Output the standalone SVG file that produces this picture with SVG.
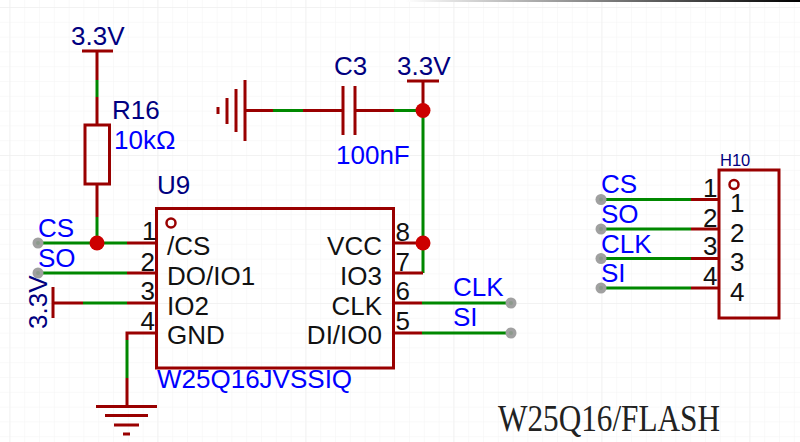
<svg xmlns="http://www.w3.org/2000/svg" width="800" height="442" viewBox="0 0 800 442">
<style>
.b{stroke:#990000;stroke-width:3;fill:none}
.g{stroke:#008800;stroke-width:3;fill:none}
.j{fill:#cc0000}
.p{fill:#a0a0a0}
.q{fill:#8c9a8c}
.t{font-family:"Liberation Sans",Arial,sans-serif;font-size:26px}
.n{fill:#000080}.v{fill:#0000ff}.k{fill:#111}
.s{fill:none;stroke:#990000;stroke-width:3}
</style>
<defs>
<pattern id="gr" width="14.8" height="14.8" patternUnits="userSpaceOnUse" x="9.4" y="7"><path d="M0 0H14.8M0 0V14.8" stroke="#f4f4f4" stroke-width="1" fill="none"/></pattern>
<pattern id="gm" width="148" height="148" patternUnits="userSpaceOnUse" x="9.4" y="7"><path d="M0 0H148M0 0V148" stroke="#ececec" stroke-width="1" fill="none"/></pattern>
<linearGradient id="tb" x1="405" y1="0" x2="800" y2="0" gradientUnits="userSpaceOnUse"><stop offset="0" stop-color="#fff"/><stop offset="1" stop-color="#000"/></linearGradient>
</defs>
<rect width="800" height="442" fill="#fff"/>
<rect width="800" height="442" fill="url(#gr)"/>
<rect width="800" height="442" fill="url(#gm)"/>
<rect x="405" y="0" width="395" height="2" fill="url(#tb)"/>
<g id="connectors">
<path class="b" d="M97 51V80M97 97V125M97 184V217M245 110.500H273M303 110.500H343M355 110.500H394M423 81V110.500"/>
<path class="g" d="M97 80V97M97 217V243M273 110.500H303M394 110.500H423V273"/>
<path class="g" d="M38 243H127M38 273H127M83 303H127M127 340V378M422 303H511M422 333H511M601 199.500H691M601 229H691M601 258.500H691M601 288H691"/>
<path class="b" d="M127 243H156M127 273H156M53 303H83M127 303H156M156 333H127V340M127 378V406M393 243H423M393 273H423M393 303H422M393 333H422M691 199.500H719M691 229H719M691 258.500H719M691 288H719"/>
<circle class="j" cx="97" cy="243" r="7.500"/>
<circle class="j" cx="423" cy="110.500" r="7.500"/>
<circle class="j" cx="423" cy="243" r="7.500"/>
</g>
<g id="vcc-r16"><path class="b" d="M82 51H113"/><text class="t n" x="71" y="45">3.3V</text></g>
<g id="vcc-c3"><path class="b" d="M407 81H439"/><text class="t n" x="397" y="75">3.3V</text></g>
<g id="vcc-u9"><path class="b" d="M53 287V318"/><text class="t n" transform="translate(47 329) rotate(-90)">3.3V</text></g>
<g id="gnd-c3"><path class="b" d="M245 80V141M236 89V132M227 98V124M218 107V114"/></g>
<g id="gnd-u9"><path class="b" d="M96 406.500H157M105 415.500H148M114 425H139M123 434H130"/></g>
<g id="R16"><rect class="s" x="85" y="125" width="24.500" height="59"/><text class="t n" x="112" y="119">R16</text><text class="t v" x="114" y="149">10kΩ</text></g>
<g id="C3"><path class="b" d="M343 86V135M355 86V135"/><text class="t n" x="334" y="75">C3</text><text class="t v" x="336" y="164">100nF</text></g>
<g id="U9">
<text class="t v" x="157" y="388">W25Q16JVSSIQ</text>
<rect class="s" x="156.500" y="208.500" width="237" height="159.500"/>
<circle cx="171" cy="223" r="4.500" fill="none" stroke="#990000" stroke-width="2.500"/>
<text class="t n" x="157" y="194">U9</text>
<g class="t k">
<text x="142" y="240">1</text><text x="140.500" y="270.500">2</text><text x="140.500" y="300">3</text><text x="140.500" y="330">4</text>
<text x="395.500" y="241">8</text><text x="395.500" y="271">7</text><text x="395.500" y="300">6</text><text x="395.500" y="330">5</text>
<text x="167" y="255">/CS</text><text x="167" y="285">DO/IO1</text><text x="167" y="315">IO2</text><text x="167" y="344">GND</text>
<text x="382" y="255" text-anchor="end">VCC</text><text x="382" y="285" text-anchor="end">IO3</text><text x="382" y="315" text-anchor="end">CLK</text><text x="382" y="344" text-anchor="end">DI/IO0</text>
</g>
</g>
<g id="H10">
<rect class="s" x="719" y="170" width="60" height="148"/>
<circle cx="734" cy="184.500" r="4.500" fill="none" stroke="#990000" stroke-width="2.500"/>
<text class="n" x="720" y="166" style="font-family:'Liberation Sans',Arial,sans-serif;font-size:16.500px">H10</text>
<g class="t k">
<text x="703" y="197">1</text><text x="703" y="227">2</text><text x="703" y="255">3</text><text x="703" y="285">4</text>
<text x="730" y="212">1</text><text x="730" y="242">2</text><text x="730" y="271">3</text><text x="730" y="301">4</text>
</g>
</g>
<g id="ports">
<circle class="p" cx="38" cy="243" r="5.500"/><circle class="p" cx="38" cy="273" r="5.500"/>
<circle class="p" cx="511" cy="303" r="5.500"/><circle class="p" cx="511" cy="333" r="5.500"/>
<circle class="p" cx="601" cy="199.500" r="5.500"/><circle class="p" cx="601" cy="229" r="5.500"/><circle class="p" cx="601" cy="258.500" r="5.500"/><circle class="p" cx="601" cy="288" r="5.500"/>
<circle class="q" cx="38" cy="243" r="2"/><circle class="q" cx="38" cy="273" r="2"/>
<circle class="q" cx="511" cy="303" r="2"/><circle class="q" cx="511" cy="333" r="2"/>
<circle class="q" cx="601" cy="199.500" r="2"/><circle class="q" cx="601" cy="229" r="2"/><circle class="q" cx="601" cy="258.500" r="2"/><circle class="q" cx="601" cy="288" r="2"/>
<g class="t v">
<text x="38" y="237">CS</text><text x="38" y="267">SO</text>
<text x="453" y="296">CLK</text><text x="453" y="326">SI</text>
<text x="601" y="193">CS</text><text x="601" y="223">SO</text><text x="601" y="253">CLK</text><text x="601" y="282">SI</text>
</g>
</g>
<text x="498" y="431" textLength="222" lengthAdjust="spacingAndGlyphs" style="font-family:'Liberation Serif','Times New Roman',serif;font-size:38px;fill:#222">W25Q16/FLASH</text>
</svg>
